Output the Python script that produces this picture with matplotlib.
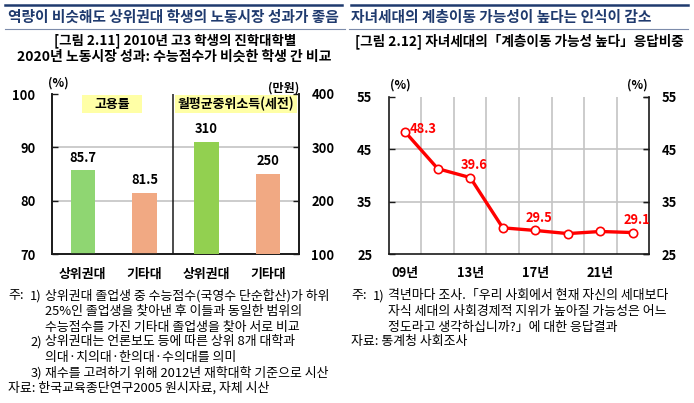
import matplotlib
matplotlib.use("Agg")
import matplotlib.pyplot as plt
from matplotlib.patches import Rectangle
from matplotlib.lines import Line2D

plt.rcParams['font.family'] = ['Noto Sans CJK KR', 'DejaVu Sans']

# ---------------- data ----------------
group_labels = ['상위권대', '기타대']
employment_rate = [85.7, 81.5]          # (%)
median_income = [310, 250]              # (만원)
bar_colors_emp = ['#8fd672', '#f1a983']
bar_colors_inc = ['#92d050', '#f1a983']

years = ['09년', '11년', '13년', '15년', '17년', '19년', '21년', '23년']
mobility = [48.3, 41.3, 39.6, 30.0, 29.5, 28.9, 29.3, 29.1]
labeled_idx = [0, 2, 4, 7]
shown_year_ticks = ['09년', '13년', '17년', '21년']

W, H = 694, 403
fig = plt.figure(figsize=(W / 100, H / 100), dpi=100)

def fx(px):
    return px / W

def fy(py):
    return 1 - py / H

NAVY = '#1f3a6e'

# ---------------- headers ----------------
fig.add_artist(Line2D([fx(5), fx(342)], [fy(5), fy(5)], color=NAVY, lw=1.8))
fig.add_artist(Line2D([fx(351), fx(688)], [fy(5), fy(5)], color=NAVY, lw=1.8))
fig.add_artist(Line2D([fx(5), fx(345)], [fy(29), fy(29)], color='#7d8cab', lw=0.8))
fig.add_artist(Line2D([fx(349), fx(688)], [fy(29), fy(29)], color='#7d8cab', lw=0.8))
fig.text(fx(8), fy(17), '역량이 비슷해도 상위권대 학생의 노동시장 성과가 좋음',
         color=NAVY, fontsize=10.6, fontweight='bold', ha='left', va='center')
fig.text(fx(351), fy(17), '자녀세대의 계층이동 가능성이 높다는 인식이 감소',
         color=NAVY, fontsize=10.6, fontweight='bold', ha='left', va='center')
fig.text(fx(175), fy(41), '[그림 2.11] 2010년 고3 학생의 진학대학별',
         fontsize=9.7, fontweight='bold', ha='center', va='center')
fig.text(fx(174), fy(57), '2020년 노동시장 성과: 수능점수가 비슷한 학생 간 비교',
         fontsize=10, fontweight='bold', ha='center', va='center')
fig.text(fx(355), fy(41), '[그림 2.12] 자녀세대의「계층이동 가능성 높다」응답비중',
         fontsize=9.8, fontweight='bold', ha='left', va='center')

SPINE = '#1a1a1a'
GRID = '#c4c4c4'

# ---------------- left chart ----------------
ax = fig.add_axes([fx(52), fy(254), fx(299) - fx(52), (254 - 94) / H])
ax2 = ax.twinx()
ax.set_xlim(0, 4)
ax.set_ylim(70, 100)
ax2.set_ylim(100, 400)
ax.set_yticks([70, 80, 90, 100])
ax2.set_yticks([100, 200, 300, 400])
emp_pos = [0.5, 1.5]
inc_pos = [2.5, 3.5]
ax.bar(emp_pos, [v - 70 for v in employment_rate], bottom=70, width=0.4,
       color=bar_colors_emp, zorder=3)
ax2.bar(inc_pos, [v - 100 for v in median_income], bottom=100, width=0.4,
        color=bar_colors_inc, zorder=3)
for x, v in zip(emp_pos, employment_rate):
    ax.annotate(f'{v:.1f}', (x, v), xytext=(0, 9), textcoords='offset points',
                ha='center', va='center', fontsize=9.3, fontweight='bold')
for x, v in zip(inc_pos, median_income):
    ax2.annotate(f'{v}', (x, v), xytext=(0, 9), textcoords='offset points',
                 ha='center', va='center', fontsize=9.3, fontweight='bold')
ax.set_xticks(emp_pos + inc_pos)
ax.set_xticklabels(group_labels + group_labels, fontsize=9.3, fontweight='bold')
ax.tick_params(axis='x', length=0, pad=9)
for y in [80, 90]:
    ax.axhline(y, color=GRID, lw=1.2, zorder=1)
ax.axvline(1.96, color=SPINE, lw=1.1, zorder=2)
for a in (ax, ax2):
    a.spines['top'].set_visible(False)
    for s in ['left', 'right', 'bottom']:
        a.spines[s].set_color(SPINE)
        a.spines[s].set_linewidth(1.2)
ax.tick_params(axis='y', direction='in', length=4, width=1, color=SPINE,
               labelsize=9.3, pad=12)
ax2.tick_params(axis='y', direction='in', length=4, width=1, color=SPINE,
                labelsize=9.3, pad=9)
for t in ax.get_yticklabels() + ax2.get_yticklabels():
    t.set_fontweight('bold')
# legend-like label boxes
ax.add_patch(Rectangle((0.121, 0.881), 0.243, 0.113, transform=ax.transAxes,
                       fc='#ffffa6', ec='none', zorder=4))
ax.text(0.2425, 0.9375, '고용률', transform=ax.transAxes, ha='center', va='center',
        fontsize=9.3, fontweight='bold', zorder=5)
ax.add_patch(Rectangle((0.496, 0.881), 0.496, 0.113, transform=ax.transAxes,
                       fc='#ffffa6', ec='none', zorder=4))
ax.text(0.744, 0.9375, '월평균중위소득(세전)', transform=ax.transAxes, ha='center',
        va='center', fontsize=9.3, fontweight='bold', zorder=5)
fig.text(fx(58), fy(83), '(%)', fontsize=8.7, fontweight='bold', ha='center', va='center')
fig.text(fx(284), fy(88), '(만원)', fontsize=8.7, fontweight='bold', ha='center', va='center')

# ---------------- right chart ----------------
bx = fig.add_axes([fx(389), fy(254), fx(649) - fx(389), (254 - 97) / H])
xs = list(range(len(years)))
bx.set_xlim(-0.5, len(years) - 0.5)
bx.set_ylim(25, 55)
bx.set_yticks([25, 35, 45, 55])
bx.plot(xs, mobility, color='#ff0000', lw=2.4, marker='o', markersize=6,
        markerfacecolor='white', markeredgecolor='#ff0000', markeredgewidth=1.2,
        zorder=4, clip_on=False)
for i in labeled_idx:
    off = (13, 2) if i == 0 else (3, 9)
    bx.annotate(f'{mobility[i]:.1f}', (xs[i], mobility[i]), xytext=off,
                textcoords='offset points', ha='center', va='center',
                fontsize=9.3, fontweight='bold', color='#ff0000', zorder=5)
bx.set_xticks(xs)
bx.set_xticklabels([y if y in shown_year_ticks else '' for y in years],
                   fontsize=9.3, fontweight='bold')
bx.tick_params(axis='x', length=0, pad=9)
bx.set_xticks([i + 0.5 for i in range(len(years) - 1)], minor=True)
bx.tick_params(axis='x', which='minor', length=0)
bx.grid(axis='x', which='minor', color=GRID, lw=1.2, zorder=1)
for y in [35, 45]:
    bx.axhline(y, color=GRID, lw=1.2, zorder=1)
bx.spines['top'].set_visible(False)
for s in ['left', 'right', 'bottom']:
    bx.spines[s].set_color(SPINE)
    bx.spines[s].set_linewidth(1.2)
bx.tick_params(axis='y', which='major', direction='in', length=4, width=1,
               color=SPINE, labelsize=9.3, pad=12, right=True, labelright=False)
for t in bx.get_yticklabels():
    t.set_fontweight('bold')
bx2 = bx.secondary_yaxis('right')
bx2.set_yticks([25, 35, 45, 55])
bx2.tick_params(direction='in', length=4, width=1, color=SPINE, labelsize=9.3, pad=9)
bx2.spines['right'].set_visible(False)
for t in bx2.get_yticklabels():
    t.set_fontweight('bold')
fig.text(fx(400), fy(85), '(%)', fontsize=8.7, fontweight='bold', ha='center', va='center')
fig.text(fx(637), fy(85), '(%)', fontsize=8.7, fontweight='bold', ha='center', va='center')

# ---------------- notes ----------------
NF = 9.3
left_markers = [(8, 296, '주:', 'left'), (42, 296, '1)', 'right'),
                (42, 342, '2)', 'right'), (42, 373, '3)', 'right')]
left_notes = [
    (45, 296, '상위권대 졸업생 중 수능점수(국영수 단순합산)가 하위'),
    (45, 311, '25%인 졸업생을 찾아낸 후 이들과 동일한 범위의'),
    (45, 327, '수능점수를 가진 기타대 졸업생을 찾아 서로 비교'),
    (45, 342, '상위권대는 언론보도 등에 따른 상위 8개 대학과'),
    (45, 357, '의대·치의대·한의대·수의대를 의미'),
    (45, 373, '재수를 고려하기 위해 2012년 재학대학 기준으로 시산'),
    (8, 388, '자료: 한국교육종단연구2005 원시자료, 자체 시산'),
]
for x, y, s, ha in left_markers:
    fig.text(fx(x), fy(y), s, fontsize=NF, ha=ha, va='center')
for x, y, s in left_notes:
    fig.text(fx(x), fy(y), s, fontsize=NF, ha='left', va='center')
right_markers = [(351, 296, '주:', 'left'), (385, 296, '1)', 'right')]
right_notes = [
    (388, 296, '격년마다 조사.「우리 사회에서 현재 자신의 세대보다'),
    (388, 311, '자식 세대의 사회경제적 지위가 높아질 가능성은 어느'),
    (388, 327, '정도라고 생각하십니까?」에 대한 응답결과'),
    (351, 342, '자료: 통계청 사회조사'),
]
for x, y, s, ha in right_markers:
    fig.text(fx(x), fy(y), s, fontsize=NF, ha=ha, va='center')
for x, y, s in right_notes:
    fig.text(fx(x), fy(y), s, fontsize=NF, ha='left', va='center')

fig.savefig('out.png', dpi=100)
